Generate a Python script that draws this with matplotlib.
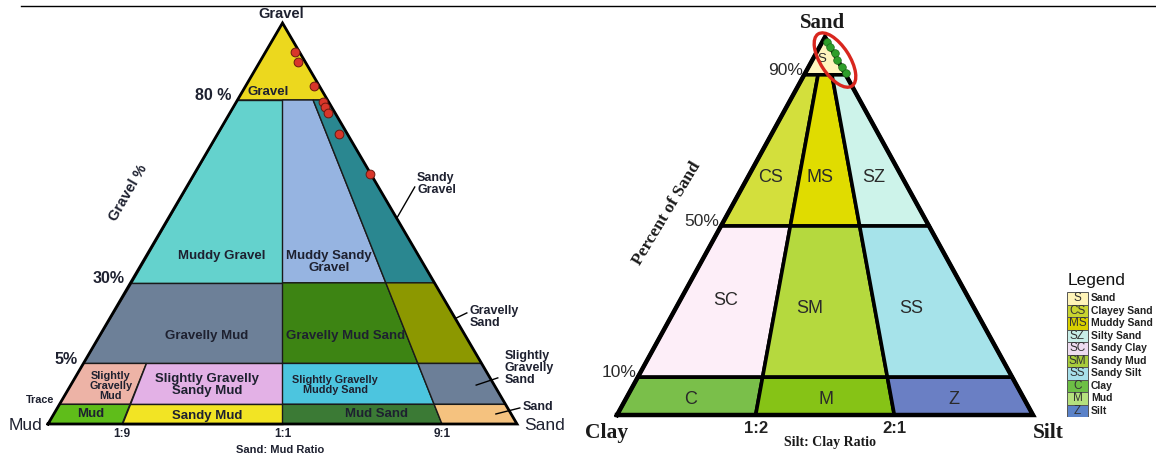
import numpy as np
import matplotlib
matplotlib.use('Agg')  # headless
import matplotlib.pyplot as plt
from matplotlib.patches import Polygon, Ellipse, Rectangle
from matplotlib.transforms import ScaledTranslation

SANS = 'Liberation Sans'
SERIF = 'Liberation Serif'
INK = '#1e2130'

# ---------------- left diagram: gravel / sand / mud ----------------
gravel_labels = ['80 %', '30%', '5%', 'Trace']
sand_mud_ratios = ['1:9', '1:1', '9:1']

# class, band (0 = top), first column, last column
folk_classes = [
    ('Gravel', 0, 0, 4),
    ('Muddy Gravel', 1, 0, 2),
    ('Muddy Sandy Gravel', 1, 2, 3),
    ('Sandy Gravel', 1, 3, 4),
    ('Gravelly Mud', 2, 0, 2),
    ('Gravelly Mud Sand', 2, 2, 3),
    ('Gravelly Sand', 2, 3, 4),
    ('Slightly Gravelly Mud', 3, 0, 1),
    ('Slightly Gravelly Sandy Mud', 3, 1, 2),
    ('Slightly Gravelly Muddy Sand', 3, 2, 3),
    ('Slightly Gravelly Sand', 3, 3, 4),
    ('Mud', 4, 0, 1),
    ('Sandy Mud', 4, 1, 2),
    ('Mud Sand', 4, 2, 3),
    ('Sand', 4, 3, 4),
]
folk_colors = ['#ecd81e', '#64d2cd', '#96b4e1', '#2a8790',
               '#6d8098', '#3d8413', '#8c9800',
               '#edb3a6', '#e3b1e6', '#4cc5df', '#6c7f98',
               '#5fbd1a', '#f2e424', '#3b7a35', '#f5c27f']

# samples (diagram units)
sample_x = [0.527, 0.533, 0.567, 0.586, 0.591, 0.597, 0.620, 0.687]
sample_y = [0.928, 0.903, 0.843, 0.803, 0.791, 0.776, 0.723, 0.623]

# schematic layout of the left diagram
band_h = [1.0, 0.808, 0.352, 0.151, 0.049, 0.0]
col_f = [0.0, 0.158, 0.5, 0.84, 1.0]

# ---------------- right diagram: sand / silt / clay ----------------
sand_levels = [90, 50, 10]
silt_clay_ratios = ['1:2', '2:1']
silt_fraction = [1 / 3, 2 / 3]

sz_classes = [
    ('S', 0, 0, 3),
    ('CS', 1, 0, 1), ('MS', 1, 1, 2), ('SZ', 1, 2, 3),
    ('SC', 2, 0, 1), ('SM', 2, 1, 2), ('SS', 2, 2, 3),
    ('C', 3, 0, 1), ('M', 3, 1, 2), ('Z', 3, 2, 3),
]
sz_colors = ['#fff4be', '#d3df3c', '#e0dc00', '#cdf3ea',
             '#fdeef8', '#b5d93e', '#a6e3ea', '#7abf4a', '#86c316', '#6a7fc4']
legend_names = ['Sand', 'Clayey Sand', 'Muddy Sand', 'Silty Sand', 'Sandy Clay',
                'Sandy Mud', 'Sandy Silt', 'Clay', 'Mud', 'Silt']
legend_colors = ['#fff4b8', '#c8d430', '#d8d000', '#c8eee8', '#eedcf0',
                 '#a8cc3c', '#a8e0ea', '#6dbf45', '#b5e07e', '#5b82c8']

green_x = [0.505, 0.512, 0.524, 0.529, 0.541, 0.550]
green_y = [0.987, 0.974, 0.958, 0.939, 0.921, 0.905]


def tern(f, h):
    f = np.asarray(f, float)
    h = np.asarray(h, float)
    return f + (0.5 - f) * h, h


def band(ax, f0, f1, h0, h1, color, lw, ec):
    xs, ys = tern([f0, f1, f1, f0], [h0, h0, h1, h1])
    ax.add_patch(Polygon(np.column_stack([xs, ys]), closed=True, fc=color,
                         ec=ec, lw=lw, joinstyle='miter'))


fig = plt.figure(figsize=(11.56, 4.59), dpi=100)
fig.add_artist(plt.Line2D([21 / 1156, 1], [1 - 6 / 459] * 2,
                          transform=fig.transFigure, color='k', lw=1))

# ---------- left ----------
axL = fig.add_axes([0, 0, 1, 1])
axL.set_xlim(-48 / 469, (1156 - 48) / 469)
axL.set_ylim((424 - 459) / 401, 424 / 401)
axL.axis('off')

for (name, row, c0, c1), col in zip(folk_classes, folk_colors):
    band(axL, col_f[c0], col_f[c1], band_h[row + 1], band_h[row], col, 1.0, '#1a1a1a')
axL.plot([0, 1, 0.5, 0], [0, 0, 1, 0], color='k', lw=2, solid_joinstyle='miter')
axL.scatter(sample_x, sample_y, s=40, color='#d8362a', edgecolor='#6a1a10',
            lw=0.7, zorder=5)

lkw = dict(family=SANS, weight='bold', color=INK, ha='center', va='center')
region_txt = [
    ('Gravel', 0.469, 0.828, 9.5), ('Muddy Gravel', 0.371, 0.419, 9.5),
    ('Muddy Sandy\nGravel', 0.599, 0.404, 9.5), ('Gravelly Mud', 0.339, 0.219, 9.5),
    ('Gravelly Mud Sand', 0.635, 0.219, 9.5),
    ('Slightly\nGravelly\nMud', 0.134, 0.095, 7.8),
    ('Slightly Gravelly\nSandy Mud', 0.339, 0.097, 9.5),
    ('Slightly Gravelly\nMuddy Sand', 0.612, 0.097, 7.8),
    ('Mud', 0.092, 0.024, 9.5), ('Sandy Mud', 0.339, 0.019, 9.5),
    ('Mud Sand', 0.701, 0.026, 9.5),
]
for t, x, y, fs in region_txt:
    axL.text(x, y, t, fontsize=fs, linespacing=1.0, **lkw)

# gravel level labels on the left edge
for t, h in zip(gravel_labels, band_h[1:5]):
    x, _ = tern(0, h)
    fs = 7.8 if t == 'Trace' else 11.5
    axL.text(x - 0.012, h + 0.01, t, fontsize=fs, family=SANS, weight='bold',
             color=INK, ha='right', va='center')
for t, f in zip(sand_mud_ratios, col_f[1:4]):
    axL.text(f, -0.026, t, fontsize=8.5, **lkw)
axL.text(0.495, -0.066, 'Sand: Mud Ratio', fontsize=8, **lkw)
axL.text(0.497, 1.022, 'Gravel', fontsize=10.5, **lkw)
axL.text(0.171, 0.576, 'Gravel %', fontsize=10.5, rotation=60, **lkw)
axL.text(-0.049, -0.004, 'Mud', fontsize=12.5, family=SANS, color=INK,
         ha='center', va='center')
axL.text(1.016, -0.004, 'Sand', fontsize=12.5, family=SANS, color=INK,
         ha='left', va='center')

side = [('Sandy\nGravel', 0.787, 0.599, (0.744, 0.514), (0.782, 0.591)),
        ('Gravelly\nSand', 0.898, 0.267, (0.870, 0.264), (0.893, 0.277)),
        ('Slightly\nGravelly\nSand', 0.974, 0.140, (0.913, 0.097), (0.959, 0.115)),
        ('Sand', 1.011, 0.042, (0.955, 0.025), (1.006, 0.040))]
for t, x, y, p0, p1 in side:
    axL.text(x, y, t, fontsize=9, family=SANS, weight='bold', color=INK,
             ha='left', va='center', linespacing=1.0)
    axL.plot([p0[0], p1[0]], [p0[1], p1[1]], color='k', lw=1)

# ---------- right ----------
axR = fig.add_axes([0, 0, 1, 1])
axR.set_xlim(-617 / 416, (1156 - 617) / 416)
axR.set_ylim((415 - 459) / 378, 415 / 378)
axR.axis('off')

sand_h = [1.0] + [v / 100 for v in sand_levels] + [0.0]
sz_f = [0.0] + silt_fraction + [1.0]
for (name, row, c0, c1), col in zip(sz_classes, sz_colors):
    band(axR, sz_f[c0], sz_f[c1], sand_h[row + 1], sand_h[row], col, 2.6, 'k')
axR.plot([0, 1, 0.5, 0], [0, 0, 1, 0], color='k', lw=3.2, solid_joinstyle='miter')

rtxt = [('S', 0.493, 0.942, 9.5), ('CS', 0.370, 0.627, 13), ('MS', 0.488, 0.627, 13),
        ('SZ', 0.618, 0.627, 13), ('SC', 0.262, 0.304, 13), ('SM', 0.464, 0.283, 13),
        ('SS', 0.707, 0.283, 13), ('C', 0.178, 0.040, 13), ('M', 0.502, 0.040, 13),
        ('Z', 0.810, 0.040, 13)]
for t, x, y, fs in rtxt:
    axR.text(x, y, t, fontsize=fs, family=SANS, color='#2a2a2a',
             ha='center', va='center')

for v in sand_levels:
    x, _ = tern(0, v / 100)
    axR.text(x - 0.004, v / 100 + 0.012, f'{v}%', fontsize=12.5, family=SANS,
             color='#2a2a2a', ha='right', va='center')
for t, f in zip(silt_clay_ratios, silt_fraction):
    axR.text(f, -0.037, t, fontsize=12, family=SANS, weight='bold', color='#222',
             ha='center', va='center')
skw = dict(family=SERIF, weight='bold', color='#1a1a1a', ha='center', va='center')
axR.text(0.512, -0.072, 'Silt: Clay Ratio', fontsize=10, **skw)
axR.text(0.493, 1.037, 'Sand', fontsize=15, **skw)
axR.text(-0.026, -0.048, 'Clay', fontsize=15.5, **skw)
axR.text(1.036, -0.048, 'Silt', fontsize=15.5, **skw)
axR.text(0.120, 0.534, 'Percent of Sand', fontsize=12.5, rotation=59, **skw)

axR.scatter(green_x, green_y, s=30, color='#2e9e2a', edgecolor='#1d6a1a',
            lw=0.5, zorder=5)
tr = fig.dpi_scale_trans + ScaledTranslation(0.524, 0.939, axR.transData)
axR.add_patch(Ellipse((0, 0), 0.62, 0.29, angle=-57, transform=tr, fill=False,
                      ec='#d8261e', lw=2.4, zorder=6))

# legend
axG = fig.add_axes([1067 / 1156, (459 - 417) / 459, 89 / 1156, 125 / 459])
axG.set_xlim(0, 89)
axG.set_ylim(10, 0)
axG.axis('off')
axG.text(1, -0.55, 'Legend', fontsize=12.5, family=SANS, color='#111',
         ha='left', va='baseline')
for i, (code, name, col) in enumerate(zip([c[0] for c in sz_classes],
                                          legend_names, legend_colors)):
    axG.add_patch(Rectangle((0, i), 21, 1, fc=col, ec='#555', lw=0.7))
    axG.text(10.5, i + 0.5, code, fontsize=8.5, family=SANS, color='#333',
             ha='center', va='center')
    axG.text(24, i + 0.5, name, fontsize=7.5, family=SANS, weight='bold',
             color='#222', ha='left', va='center')

fig.savefig('out.png', dpi=100)
plt.close(fig)
